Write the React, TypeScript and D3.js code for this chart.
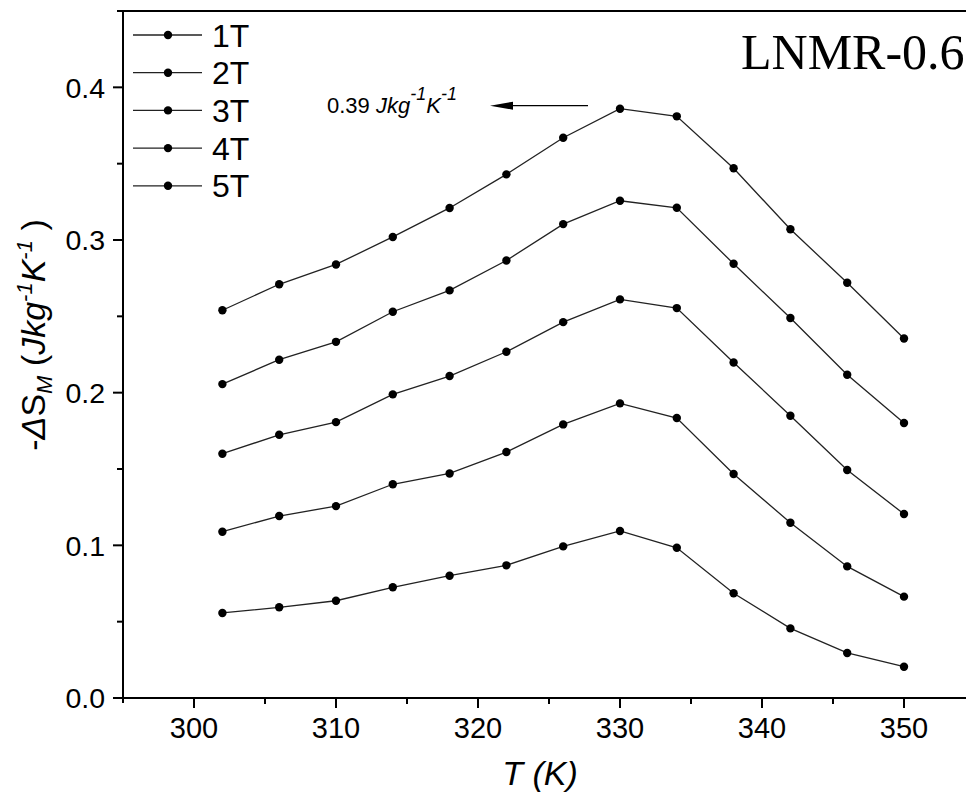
import React from 'react';
import * as d3 from 'd3';

const temperatures = [302, 306, 310, 314, 318, 322, 326, 330, 334, 338, 342, 346, 350];
const s1T = [0.0557, 0.0594, 0.0637, 0.0725, 0.0801, 0.0869, 0.0993, 0.1094, 0.0984, 0.0686, 0.0456, 0.0295, 0.0205];
const s2T = [0.1089, 0.1192, 0.1257, 0.14, 0.1471, 0.1611, 0.1792, 0.193, 0.1834, 0.1467, 0.1148, 0.0862, 0.0664];
const s3T = [0.16, 0.1724, 0.1807, 0.1989, 0.2109, 0.2268, 0.2462, 0.2611, 0.2554, 0.2198, 0.1849, 0.1493, 0.1205];
const s4T = [0.2056, 0.2216, 0.2333, 0.253, 0.267, 0.2866, 0.3104, 0.3257, 0.3211, 0.2844, 0.2489, 0.2117, 0.1801];
const s5T = [0.254, 0.271, 0.284, 0.302, 0.321, 0.343, 0.367, 0.386, 0.381, 0.347, 0.307, 0.272, 0.2355];
const seriesLabels = ['1T', '2T', '3T', '4T', '5T'];
const seriesValues = [s1T, s2T, s3T, s4T, s5T];
const xTicks = [300, 310, 320, 330, 340, 350];
const xMinorTicks = [305, 315, 325, 335, 345, 355];
const yTicks = [0, 0.1, 0.2, 0.3, 0.4];
const yMinorTicks = [0.05, 0.15, 0.25, 0.35, 0.45];

const FONT = 'Arial, "Liberation Sans", sans-serif';

export default function App() {
  const W = 966;
  const H = 796;
  const x = d3.scaleLinear().domain([295, 355]).range([123, 975]);
  const y = d3.scaleLinear().domain([0, 0.45]).range([698, 11]);
  const line = d3
    .line<number>()
    .x((_, i) => x(temperatures[i]))
    .y((d) => y(d));

  const x0 = x.range()[0];
  const x1 = x.range()[1];
  const y0 = y.range()[0];
  const y1 = y.range()[1];

  const legendX = 133;
  const legendY0 = 35;
  const legendDy = 37.7;

  return (
    <svg
      width={W}
      height={H}
      style={{ position: 'absolute', left: 0, top: 0, background: '#fff' }}
      fontFamily={FONT}
    >
      <rect x={0} y={0} width={W} height={H} fill="#fff" />
      {/* series */}
      {seriesValues.map((vals, si) => (
        <g key={seriesLabels[si]}>
          <path d={line(vals) || ''} fill="none" stroke="#222" strokeWidth={1.3} />
          {vals.map((v, i) => (
            <circle key={i} cx={x(temperatures[i])} cy={y(v)} r={4.2} fill="#000" />
          ))}
        </g>
      ))}

      {/* frame */}
      <line x1={x0} x2={x0} y1={y1} y2={y0 + 5} stroke="#000" strokeWidth={2} />
      <line x1={x0 - 6} x2={x1} y1={y1} y2={y1} stroke="#000" strokeWidth={2} />
      <line x1={x0} x2={x1} y1={y0} y2={y0} stroke="#000" strokeWidth={2} />
      <line x1={x1} x2={x1} y1={y1} y2={y0} stroke="#000" strokeWidth={2} />

      {/* x ticks */}
      {xTicks.map((t) => (
        <g key={t}>
          <line x1={x(t)} x2={x(t)} y1={y0} y2={y0 + 10} stroke="#000" strokeWidth={2} />
          <text x={x(t)} y={738} textAnchor="middle" fontSize={29} fill="#000">
            {t}
          </text>
        </g>
      ))}
      {xMinorTicks.map((t) => (
        <line key={t} x1={x(t)} x2={x(t)} y1={y0} y2={y0 + 6} stroke="#000" strokeWidth={2} />
      ))}

      {/* y ticks */}
      {yTicks.map((t) => (
        <g key={t}>
          <line x1={x0 - 10} x2={x0} y1={y(t)} y2={y(t)} stroke="#000" strokeWidth={2} />
          <text x={105} y={y(t)} dy="0.36em" textAnchor="end" fontSize={28.5} fill="#000">
            {d3.format('.1f')(t)}
          </text>
        </g>
      ))}
      {yMinorTicks.map((t) => (
        <line key={t} x1={x0 - 6} x2={x0} y1={y(t)} y2={y(t)} stroke="#000" strokeWidth={2} />
      ))}

      {/* axis titles */}
      <text x={540} y={785} textAnchor="middle" fontSize={34} fontStyle="italic" fill="#000">
        T (K)
      </text>
      <text transform="translate(45,335) rotate(-90)" textAnchor="middle" fontSize={34} fill="#000">
        <tspan>-</tspan>
        <tspan fontStyle="italic">Δ</tspan>
        <tspan>S</tspan>
        <tspan fontSize={22} fontStyle="italic" dy={7}>M</tspan>
        <tspan dy={-7}> (</tspan>
        <tspan fontStyle="italic">Jkg</tspan>
        <tspan fontSize={22} fontStyle="italic" dy={-13}>-1</tspan>
        <tspan fontStyle="italic" dy={13}>K</tspan>
        <tspan fontSize={22} fontStyle="italic" dy={-13}>-1</tspan>
        <tspan dy={13}> )</tspan>
      </text>

      {/* legend */}
      {seriesLabels.map((lab, i) => {
        const ly = legendY0 + i * legendDy;
        return (
          <g key={lab}>
            <line x1={legendX} x2={legendX + 69} y1={ly} y2={ly} stroke="#222" strokeWidth={1.3} />
            <circle cx={legendX + 35} cy={ly} r={4.2} fill="#000" />
            <text x={212} y={ly} dy="0.36em" fontSize={32} fill="#000">
              {lab}
            </text>
          </g>
        );
      })}

      {/* sample label */}
      <text x={741} y={69} fontFamily='"Times New Roman", "Liberation Serif", serif' fontSize={50} fill="#000">
        LNMR-0.6
      </text>

      {/* annotation */}
      <text x={327} y={113} fontSize={22} fill="#000">
        <tspan>0.39 </tspan>
        <tspan fontStyle="italic">Jkg</tspan>
        <tspan fontStyle="italic" fontSize={18} dy={-13}>-1</tspan>
        <tspan fontStyle="italic" dy={13}>K</tspan>
        <tspan fontStyle="italic" fontSize={18} dy={-13}>-1</tspan>
      </text>
      <line x1={588} x2={508} y1={105.7} y2={105.7} stroke="#000" strokeWidth={1.2} />
      <path d="M490,105.7 L513,101.7 L513,109.7 Z" fill="#000" />
    </svg>
  );
}
